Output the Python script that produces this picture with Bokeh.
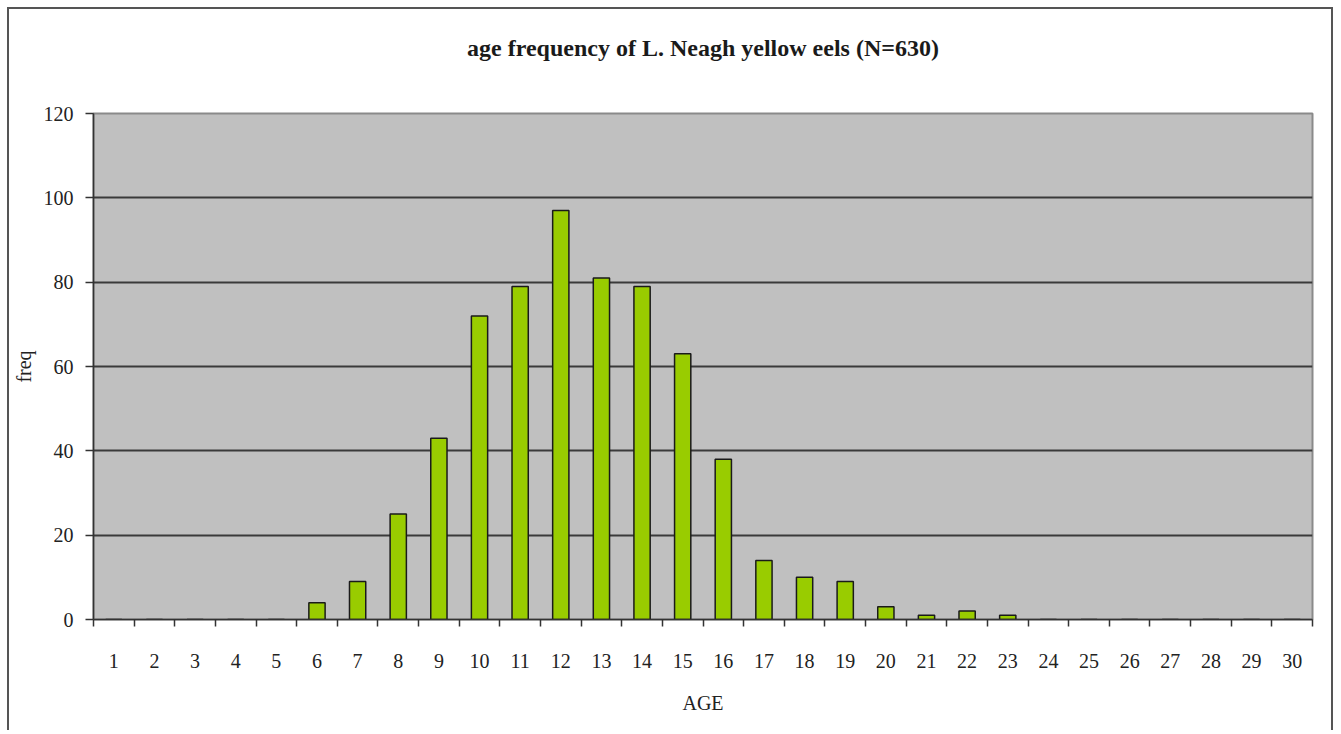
from bokeh.plotting import figure
from bokeh.models import Range1d, FixedTicker, Title
from bokeh.embed import file_html
from bokeh.resources import INLINE

# data
ages = list(range(1, 31))
freq = [0, 0, 0, 0, 0, 4, 9, 25, 43, 72, 79, 97, 81, 79, 63, 38, 14, 10, 9, 3,
        1, 2, 1, 0, 0, 0, 0, 0, 0, 0]
y_ticks = [0, 20, 40, 60, 80, 100, 120]
title_text = "age frequency of L. Neagh yellow eels (N=630)"

FONT = "Liberation Serif"

p = figure(width=1326, height=723, x_range=Range1d(0.5, 30.5), y_range=Range1d(0, 120),
           output_backend="svg", toolbar_location=None, title=None,
           min_border_left=84, min_border_right=23, min_border_top=104, min_border_bottom=113)
p.styles = {"border-top": "2px solid #555555", "border-left": "2px solid #555555",
            "border-right": "2px solid #555555", "margin-left": "7px", "margin-top": "7px"}

# spacer (closest to the frame) then the real title above it
spacer = Title(text=" ", text_font_size="1px", standoff=50)
p.add_layout(spacer, "above")
t = Title(text=title_text, align="center", text_font="'Times New Roman', 'Liberation Serif', serif",
          text_font_style="bold", text_font_size="24px", text_color="#1a1a1a", standoff=0)
p.add_layout(t, "above")

p.background_fill_color = "#C0C0C0"
p.border_fill_color = "white"
p.outline_line_color = "#8a8a8a"
p.outline_line_width = 2

p.vbar(x=ages, top=freq, width=0.4, fill_color="#99CC00", line_color="#1a1a1a", line_width=1.5)

# y axis
p.yaxis.ticker = FixedTicker(ticks=y_ticks)
p.yaxis.axis_label = "freq"
p.yaxis.axis_line_color = "#333333"
p.yaxis.axis_line_width = 1.5
p.yaxis.major_tick_out = 8
p.yaxis.major_tick_in = 0
p.yaxis.major_tick_line_color = "#333333"
p.yaxis.major_tick_line_width = 1.5
p.yaxis.minor_tick_line_color = None
p.yaxis.major_label_standoff = 12
p.yaxis.major_label_text_font = FONT
p.yaxis.major_label_text_font_size = "20px"
p.yaxis.major_label_text_color = "#222222"
p.yaxis.axis_label_text_font = FONT
p.yaxis.axis_label_text_font_size = "20px"
p.yaxis.axis_label_text_font_style = "normal"
p.yaxis.axis_label_text_color = "#222222"
p.yaxis.axis_label_standoff = 6

# x axis
p.xaxis.ticker = FixedTicker(ticks=ages, minor_ticks=[a - 0.5 for a in ages] + [ages[-1] + 0.5])
p.xaxis.axis_label = "AGE"
p.xaxis.axis_line_color = "#333333"
p.xaxis.axis_line_width = 1.5
p.xaxis.major_tick_line_color = None
p.xaxis.major_tick_out = 6
p.xaxis.major_tick_in = 0
p.xaxis.minor_tick_line_color = "#333333"
p.xaxis.minor_tick_line_width = 1.5
p.xaxis.minor_tick_out = 7
p.xaxis.minor_tick_in = 0
p.xaxis.major_label_standoff = 27
p.xaxis.major_label_text_font = FONT
p.xaxis.major_label_text_font_size = "20px"
p.xaxis.major_label_text_color = "#222222"
p.xaxis.axis_label_text_font = FONT
p.xaxis.axis_label_text_font_size = "20px"
p.xaxis.axis_label_text_font_style = "normal"
p.xaxis.axis_label_text_color = "#222222"
p.xaxis.axis_label_standoff = 21

p.xgrid.grid_line_color = None
p.ygrid.grid_line_color = "#3a3a3a"
p.ygrid.grid_line_width = 2

open("out.html", "w").write(file_html(p, INLINE))
